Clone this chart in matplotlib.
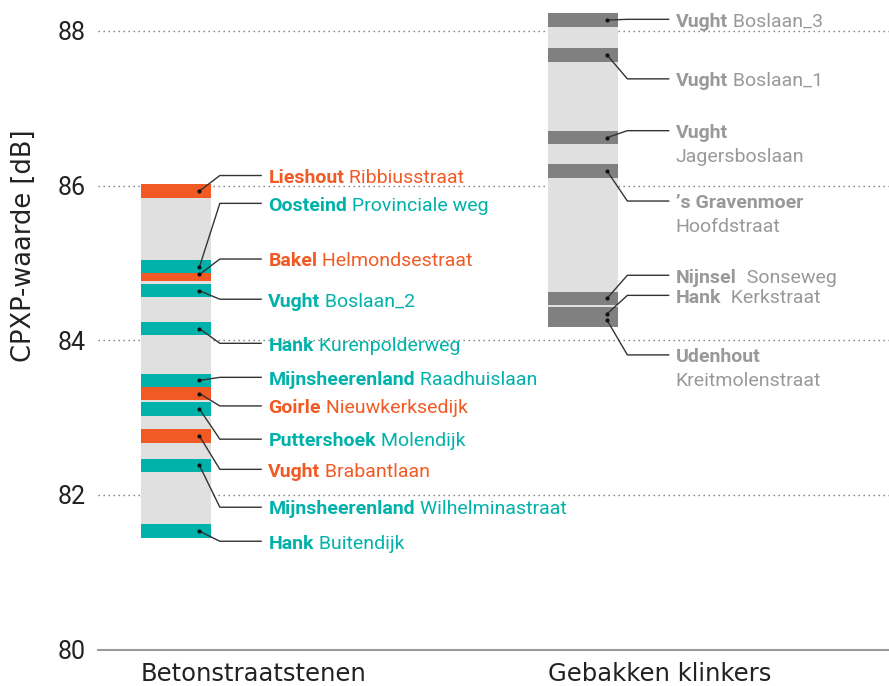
import matplotlib
matplotlib.use('Agg')
import matplotlib.pyplot as plt

# ---------------- data ----------------
categories = ['Betonstraatstenen', 'Gebakken klinkers']

beton_places = ['Lieshout', 'Oosteind', 'Bakel', 'Vught', 'Hank', 'Mijnsheerenland',
                'Goirle', 'Puttershoek', 'Vught', 'Mijnsheerenland', 'Hank']
beton_streets = ['Ribbiusstraat', 'Provinciale weg', 'Helmondsestraat', 'Boslaan_2',
                 'Kurenpolderweg', 'Raadhuislaan', 'Nieuwkerksedijk', 'Molendijk',
                 'Brabantlaan', 'Wilhelminastraat', 'Buitendijk']
beton_values = [85.93, 84.95, 84.85, 84.64, 84.15, 83.48, 83.31, 83.11, 82.76, 82.38, 81.53]
beton_groups = ['oranje', 'groen', 'oranje', 'groen', 'groen', 'groen',
                'oranje', 'groen', 'oranje', 'groen', 'groen']

klinker_places = ['Vught', 'Vught', 'Vught', '\u2019s Gravenmoer', 'Nijnsel', 'Hank', 'Udenhout']
klinker_streets = ['Boslaan_3', 'Boslaan_1', 'Jagersboslaan', 'Hoofdstraat',
                   'Sonseweg', 'Kerkstraat', 'Kreitmolenstraat']
klinker_values = [88.14, 87.69, 86.62, 86.19, 84.54, 84.34, 84.26]
klinker_groups = ['grijs'] * 7

# label layout (positions of the annotation texts)
beton_label_y = [86.13, 85.77, 85.05, 84.53, 83.96, 83.52, 83.15, 82.72, 82.33, 81.84, 81.40]
klinker_label_y = [88.15, 87.38, 86.71, 85.80, 84.84, 84.58, 83.81]
klinker_two_line = [False, False, True, True, False, False, True]
klinker_sep = [' ', ' ', ' ', ' ', '  ', '  ', ' ']
beton_sep = [' '] * 11

yticks = [80, 82, 84, 86, 88]

# ---------------- style ----------------
band_colors = {'oranje': '#F15A24', 'groen': '#00B2A9', 'grijs': '#808080'}
text_colors = {'oranje': '#F15A24', 'groen': '#00B2A9', 'grijs': '#999999'}
LABEL_FONT = 'Roboto'
LABEL_SIZE = 14
BAR_W = 0.172
HALF = 0.087
DOT_OFF, ELBOW_OFF, END_OFF, TEXT_OFF = 0.058, 0.108, 0.211, 0.227
CAP_HALF = 0.094
LINE2 = 0.31

fig = plt.figure(figsize=(8.89, 6.86), dpi=100)
ax = fig.add_axes([98 / 889, 36.5 / 686, 791 / 889, 649.5 / 686])
ax.set_xlim(-0.191, 1.750)
ax.set_ylim(80, 88.40)

for s in ['top', 'right', 'left']:
    ax.spines[s].set_visible(False)
ax.spines['bottom'].set_color('#9a9a9a')
ax.spines['bottom'].set_linewidth(1.5)
ax.spines['bottom'].set_zorder(5)

ax.set_yticks(yticks)
ax.set_yticklabels([str(t) for t in yticks], fontsize=18, family=LABEL_FONT, color='#222222')
ax.tick_params(axis='y', length=0, pad=9)
ax.set_xticks([])
ax.yaxis.grid(True, linestyle=(0, (1, 2.6)), color='#777777', linewidth=1)
ax.set_axisbelow(True)

ax.set_ylabel('CPXP-waarde [dB]', fontsize=18.5, family='DejaVu Sans', color='#222222')
ax.yaxis.set_label_coords(-0.077, 0.621)


def draw_column(xc, places, streets, values, groups, label_y, two_line, seps, cat):
    lo, hi = min(values), max(values)
    ax.bar(xc, hi - lo + 2 * HALF, bottom=lo - HALF, width=BAR_W,
           color='#E0E0E0', zorder=1, linewidth=0)
    order = sorted(range(len(values)), key=lambda i: values[i])
    for k, i in enumerate(order):
        ax.bar(xc, 2 * HALF, bottom=values[i] - HALF, width=BAR_W,
               color=band_colors[groups[i]], zorder=2 + k * 0.01, linewidth=0)
    for i in range(len(values)):
        ly = label_y[i]
        ax.plot([xc + DOT_OFF, xc + ELBOW_OFF, xc + END_OFF],
                [values[i], ly, ly], color='#333333', lw=1, zorder=4,
                solid_capstyle='butt')
        ax.plot([xc + DOT_OFF], [values[i]], 'o', ms=2.0, color='#111111', zorder=4)
        col = text_colors[groups[i]]
        t = ax.text(xc + TEXT_OFF, ly - CAP_HALF, places[i], fontsize=LABEL_SIZE,
                    family=LABEL_FONT, fontweight='bold', color=col, va='baseline',
                    ha='left', zorder=6)
        if two_line[i]:
            ax.text(xc + TEXT_OFF, ly - CAP_HALF - LINE2, streets[i], fontsize=LABEL_SIZE,
                    family=LABEL_FONT, color=col, va='baseline', ha='left', zorder=6)
        else:
            ax.annotate(seps[i] + streets[i], xy=(1, ly - CAP_HALF),
                        xycoords=(t, 'data'), fontsize=LABEL_SIZE, family=LABEL_FONT,
                        color=col, va='baseline', ha='left', zorder=6)
    ax.text(xc - BAR_W / 2, -0.048, cat, transform=ax.get_xaxis_transform(),
            fontsize=17.5, family='DejaVu Sans', color='#222222', ha='left', va='baseline')


draw_column(0, beton_places, beton_streets, beton_values, beton_groups,
            beton_label_y, [False] * 11, beton_sep, categories[0])
draw_column(1, klinker_places, klinker_streets, klinker_values, klinker_groups,
            klinker_label_y, klinker_two_line, klinker_sep, categories[1])

fig.savefig('out.png', dpi=100)
